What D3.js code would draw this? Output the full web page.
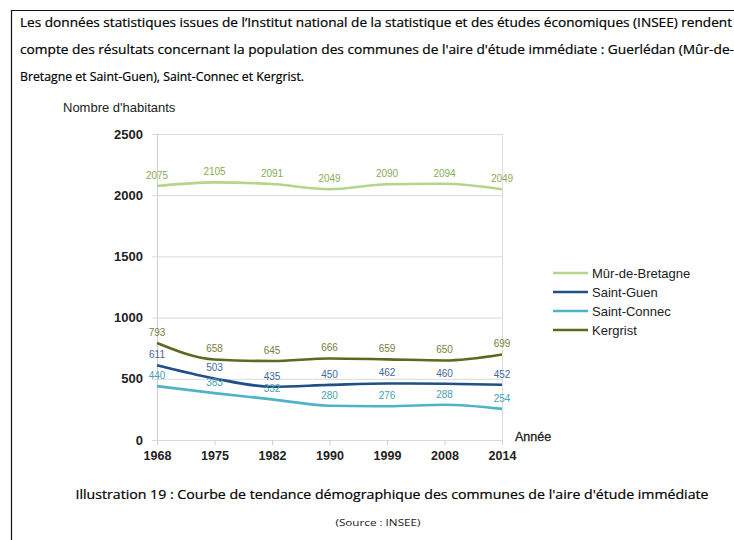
<!DOCTYPE html>
<html>
<head>
<meta charset="utf-8">
<script src="https://cdn.jsdelivr.net/npm/d3@7"></script>
<style>
  html, body { margin: 0; padding: 0; background: #fff; }
  svg { display: block; }
</style>
</head>
<body>
<svg id="page" width="734" height="540"></svg>
<script>
// Population figures (INSEE) per census year
const years = ["1968", "1975", "1982", "1990", "1999", "2008", "2014"];
const murDeBretagne = [2075, 2105, 2091, 2049, 2090, 2094, 2049];
const saintGuen = [611, 503, 435, 450, 462, 460, 452];
const saintConnec = [440, 383, 332, 280, 276, 288, 254];
const kergrist = [793, 658, 645, 666, 659, 650, 699];
const yTicks = [0, 500, 1000, 1500, 2000, 2500];
const seriesNames = ["Mûr-de-Bretagne", "Saint-Guen", "Saint-Connec", "Kergrist"];

const series = [
  { name: seriesNames[0], values: murDeBretagne, color: "#b3d68a", label: "#86ad58" },
  { name: seriesNames[1], values: saintGuen, color: "#1f4f86", label: "#4566a0" },
  { name: seriesNames[2], values: saintConnec, color: "#4fb3c8", label: "#4a9fb2" },
  { name: seriesNames[3], values: kergrist, color: "#5a6a1e", label: "#76803c" }
];

const svg = d3.select("#page");

// Frame around the document excerpt
svg.append("line").attr("x1", 11).attr("y1", 10.5).attr("x2", 734).attr("y2", 10.5)
  .attr("stroke", "#111").attr("stroke-width", 1.2);
svg.append("line").attr("x1", 11.5).attr("y1", 10).attr("x2", 11.5).attr("y2", 540)
  .attr("stroke", "#111").attr("stroke-width", 1.2);

// Introductory paragraph
const para = [
  { t: "Les données statistiques issues de l’Institut national de la statistique et des études économiques (INSEE) rendent", y: 27, w: 712 },
  { t: "compte des résultats concernant la population des communes de l'aire d'étude immédiate : Guerlédan (Mûr-de-", y: 54, w: 714 },
  { t: "Bretagne et Saint-Guen), Saint-Connec et Kergrist.", y: 81, w: 284 }
];
svg.selectAll("text.para").data(para).join("text")
  .attr("class", "para")
  .attr("x", 20).attr("y", d => d.y)
  .attr("textLength", d => d.w).attr("lengthAdjust", "spacingAndGlyphs")
  .style("font-family", "'Open Sans', sans-serif").style("font-size", "12.5px")
  .attr("fill", "#000").attr("stroke", "#000").attr("stroke-width", 0.2)
  .text(d => d.t);

// Chart scales
const x = d3.scalePoint().domain(years).range([157, 502]).padding(0);
const y = d3.scaleLinear().domain([0, 2500]).range([440, 134]);

const chartFont = "'Liberation Sans', Arial, sans-serif";

// Horizontal gridlines
svg.append("g").selectAll("line").data(yTicks).join("line")
  .attr("x1", 152).attr("x2", 502)
  .attr("y1", d => y(d) + 0.5).attr("y2", d => y(d) + 0.5)
  .attr("stroke", "#d9d9d9").attr("stroke-width", 1);

// Plot borders (left axis and right edge)
svg.append("line").attr("x1", 157.5).attr("x2", 157.5).attr("y1", y(2500)).attr("y2", y(0) + 5)
  .attr("stroke", "#cfcfcf");
svg.append("line").attr("x1", 502.5).attr("x2", 502.5).attr("y1", y(2500)).attr("y2", y(0) + 5)
  .attr("stroke", "#dcdcdc");

// Y axis labels
const yAxis = d3.axisLeft(y).tickValues(yTicks).tickFormat(d3.format("d")).tickSize(0).tickPadding(14);
const gy = svg.append("g").attr("transform", "translate(157,0)").call(yAxis);
gy.select(".domain").remove();
gy.selectAll("text").style("font-family", chartFont).style("font-size", "13px")
  .style("font-weight", "bold").attr("fill", "#222");

// X axis ticks and labels
const xAxis = d3.axisBottom(x).tickSize(5).tickPadding(6);
const gx = svg.append("g").attr("transform", `translate(0,${y(0)})`).call(xAxis);
gx.select(".domain").remove();
gx.selectAll("line").attr("stroke", "#cfcfcf");
gx.selectAll("text").style("font-family", chartFont).style("font-size", "12.5px")
  .style("font-weight", "bold").attr("fill", "#222");

// Axis titles
svg.append("text").attr("x", 63).attr("y", 112).text("Nombre d'habitants")
  .style("font-family", chartFont).style("font-size", "13px").attr("fill", "#222");
svg.append("text").attr("x", 515).attr("y", 441).text("Année")
  .style("font-family", chartFont).style("font-size", "12.5px").attr("fill", "#222")
  .attr("stroke", "#222").attr("stroke-width", 0.3);

// Series lines
const line = d3.line()
  .x((d, i) => x(years[i]))
  .y(d => y(d))
  .curve(d3.curveMonotoneX);

svg.append("g").selectAll("path").data(series).join("path")
  .attr("d", d => line(d.values))
  .attr("fill", "none")
  .attr("stroke", d => d.color)
  .attr("stroke-width", 2.6)
  .attr("stroke-linejoin", "round");

// Value labels above each point
series.forEach(s => {
  svg.append("g").selectAll("text").data(s.values).join("text")
    .attr("x", (d, i) => x(years[i]))
    .attr("y", d => y(d) - 7)
    .attr("text-anchor", "middle")
    .style("font-family", chartFont).style("font-size", "10px")
    .attr("fill", s.label)
    .text(d => d);
});

// Legend
const legend = svg.append("g").selectAll("g").data(series).join("g")
  .attr("transform", (d, i) => `translate(553,${273 + i * 19})`);
legend.append("line").attr("x1", 0).attr("x2", 35).attr("y1", 0).attr("y2", 0)
  .attr("stroke", d => d.color).attr("stroke-width", 2.4);
legend.append("text").attr("x", 39).attr("y", 4.5).text(d => d.name)
  .style("font-family", chartFont).style("font-size", "13px").attr("fill", "#222");

// Caption and source
svg.append("text").attr("x", 392).attr("y", 499).attr("text-anchor", "middle")
  .attr("textLength", 633).attr("lengthAdjust", "spacingAndGlyphs")
  .style("font-family", "'Open Sans', sans-serif").style("font-size", "12.5px")
  .attr("fill", "#000").attr("stroke", "#000").attr("stroke-width", 0.2)
  .text("Illustration 19 : Courbe de tendance démographique des communes de l'aire d'étude immédiate");
svg.append("text").attr("x", 378).attr("y", 526).attr("text-anchor", "middle")
  .attr("textLength", 85).attr("lengthAdjust", "spacingAndGlyphs")
  .style("font-family", "'Open Sans', sans-serif").style("font-size", "9.5px").attr("fill", "#1a1a1a")
  .text("(Source : INSEE)");
</script>
</body>
</html>
